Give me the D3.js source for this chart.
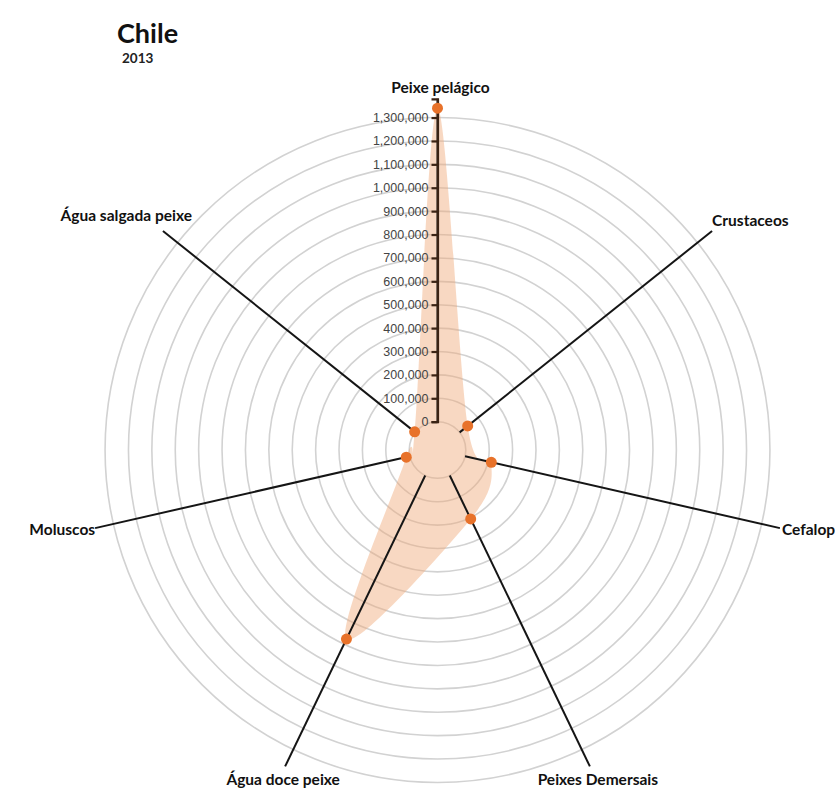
<!DOCTYPE html>
<meta charset="utf-8">
<head>
  <title>Chile 2013 radar</title>
  <script src="https://d3js.org/d3.v7.min.js"></script>
  <style>
    body { margin: 0; background: #fff; }
    svg { display: block; font-family: Lato, "Open Sans", sans-serif; }
    .grid { fill: none; stroke: #d2d2d2; stroke-width: 1.6; }
    .spoke { stroke: #151515; stroke-width: 2; }
    .axis-label { font-weight: bold; font-size: 15.5px; fill: #111; }
    .scale path, .scale line { stroke: #3a2314; stroke-width: 2.2; }
    .scale text { font-size: 12.5px; fill: #444; }
  </style>
</head>
<body>
<svg></svg>
<script>
// data (tonnes)
var country = "Chile";
var year = "2013";
var categories = ["Peixe pelágico", "Crustaceos", "Cefalopodes", "Peixes Demersais",
                  "Água doce peixe", "Moluscos", "Água salgada peixe"];
var values = [1340000, 44000, 115000, 206000, 776000, 16000, 4000];
var tickStep = 100000;

// label tweaks (px) for a couple of names that sit off the spoke end
var labelNudge = {"Peixe pelágico": 3, "Peixes Demersais": 8, "Água doce peixe": -2, "Água salgada peixe": 29, "Cefalopodes": 2};

var width = 835, height = 793;
var cx = 437.5, cy = 450;
var innerR = 28.3, outerR = 351.2;

var svg = d3.select("svg").attr("width", width).attr("height", height);

var maxVal = d3.max(values) * 1.03;
var r = d3.scaleLinear().domain([0, maxVal]).range([innerR, outerR]);
function ang(c) { return (categories.indexOf(c)) * 2 * Math.PI / categories.length; }

var g = svg.append("g").attr("transform", "translate(" + cx + "," + cy + ")");

var ticks = d3.range(0, maxVal, tickStep);

// grid rings
g.selectAll(".grid")
    .data(ticks)
    .enter().append("circle")
    .attr("class", "grid")
    .attr("r", function(d) { return r(d); });

// value shape
var shape = d3.lineRadial()
    .angle(function(d, i) { return ang(categories[i]); })
    .radius(function(d) { return r(d); })
    .curve(d3.curveCardinalClosed);

g.append("path")
    .datum(values)
    .attr("d", shape)
    .style("fill", "#f0a878")
    .style("fill-opacity", 0.45)
    .style("stroke", "none");

// spokes
function pt(c, rad) {
  var a = ang(c);
  return [Math.sin(a) * rad, -Math.cos(a) * rad];
}
g.selectAll(".spoke")
    .data(categories)
    .enter().append("line")
    .attr("class", "spoke")
    .attr("x1", function(d) { return pt(d, innerR)[0]; })
    .attr("y1", function(d) { return pt(d, innerR)[1]; })
    .attr("x2", function(d) { return pt(d, outerR)[0]; })
    .attr("y2", function(d) { return pt(d, outerR)[1]; });

// spoke labels
g.selectAll(".axis-label")
    .data(categories)
    .enter().append("text")
    .attr("class", "axis-label")
    .attr("x", function(d) { return pt(d, outerR)[0] + (labelNudge[d] || 0); })
    .attr("y", function(d) {
      var a = ang(d), c = Math.cos(a), s = Math.sin(a);
      var y = pt(d, outerR)[1];
      if (Math.abs(s) < 0.1) return y - 6;
      if (c < -0.5) return y + 19;
      if (c > 0.3) return y - (s > 0 ? 5 : 10);
      return y + 7;
    })
    .style("text-anchor", function(d) {
      var a = ang(d), c = Math.cos(a), s = Math.sin(a);
      if (Math.abs(s) < 0.1 || c < -0.5) return "middle";
      return s > 0 ? "start" : "end";
    })
    .text(function(d) { return d; });

// scale axis on the first spoke
var yScale = d3.scaleLinear().domain([0, maxVal]).range([-innerR, -outerR]);
g.append("g")
    .attr("class", "scale")
    .call(d3.axisLeft(yScale).tickValues(ticks).tickSize(6).tickPadding(3).tickFormat(d3.format(",")));

// dots
g.selectAll(".dot")
    .data(values)
    .enter().append("circle")
    .attr("class", "dot")
    .attr("r", 5.5)
    .attr("cx", function(d, i) { return pt(categories[i], r(d))[0]; })
    .attr("cy", function(d, i) { return pt(categories[i], r(d))[1]; })
    .style("fill", "#e8722a");

// title
svg.append("text")
    .attr("x", 117).attr("y", 43)
    .style("font-weight", "bold").style("font-size", "27px").style("fill", "#111")
    .text(country);
svg.append("text")
    .attr("x", 122).attr("y", 63)
    .style("font-weight", "bold").style("font-size", "13.5px").style("fill", "#222")
    .text(year);
</script>
</body>
